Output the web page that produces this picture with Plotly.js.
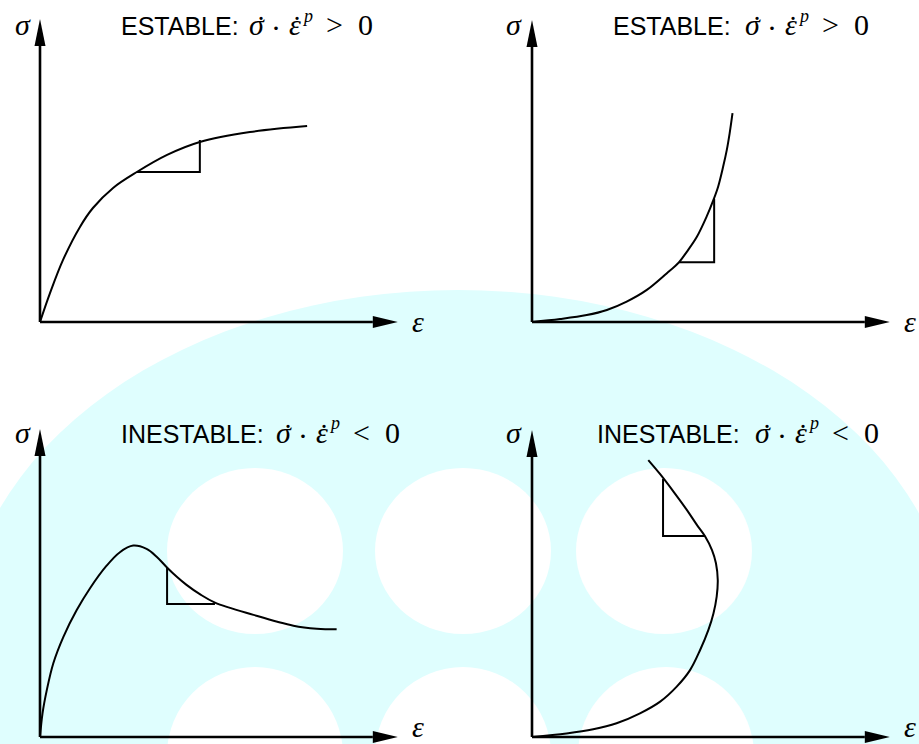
<!DOCTYPE html>
<html>
<head>
<meta charset="utf-8">
<script src="https://cdn.plot.ly/plotly-3.0.1.min.js"></script>
<style>html,body{margin:0;padding:0;background:#fff;}#chart{width:919px;height:744px;}</style>
</head>
<body>
<div id="chart"></div>
<script>
// ---- data (strain ε, stress σ in arbitrary units) ----
const eps1 = [0, 0.28, 0.64, 1.11, 1.47, 2.03, 2.69, 3.53, 4.44, 5.83, 7.42];
const sig1 = [0, 0.97, 2.07, 3.17, 3.80, 4.47, 5.00, 5.57, 6.00, 6.33, 6.53];
const triEps1 = [2.69, 4.44, 4.44];
const triSig1 = [5.00, 5.00, 6.07];

const eps2 = [0, 0.78, 1.52, 2.08, 2.63, 3.19, 3.74, 4.08, 4.30, 4.58, 4.85, 5.04, 5.17, 5.31, 5.41, 5.49, 5.57];
const sig2 = [0, 0.10, 0.23, 0.40, 0.68, 1.07, 1.62, 1.99, 2.34, 2.84, 3.51, 4.07, 4.51, 5.18, 5.73, 6.29, 6.96];
const triEps2 = [4.08, 5.06, 5.06];
const triSig2 = [1.99, 1.99, 4.10];

const eps3 = [0, 0.07, 0.19, 0.37, 0.65, 1.02, 1.39, 1.85, 2.22, 2.59, 2.96, 3.24, 3.52, 3.80, 4.07, 4.44, 4.86, 5.93, 7.04, 7.69, 8.24];
const sig3 = [0, 0.79, 1.57, 2.46, 3.34, 4.23, 4.96, 5.71, 6.16, 6.38, 6.27, 6.01, 5.66, 5.34, 5.07, 4.76, 4.48, 4.07, 3.71, 3.61, 3.59];
const triEps3 = [3.53, 3.53, 4.86];
const triSig3 = [5.63, 4.43, 4.43];

const eps4 = [0, 0.96, 1.70, 2.35, 3.00, 3.56, 4.02, 4.39, 4.67, 4.90, 5.04, 5.13, 5.16, 5.11, 5.00, 4.81, 4.58, 4.30, 3.93, 3.56, 3.23];
const sig4 = [0, 0.12, 0.26, 0.46, 0.79, 1.18, 1.68, 2.23, 2.90, 3.57, 4.12, 4.68, 5.23, 5.79, 6.23, 6.68, 7.07, 7.57, 8.18, 8.76, 9.23];
const triEps4 = [3.64, 3.64, 4.81];
const triSig4 = [8.60, 6.70, 6.70];

const labels = ['ESTABLE:', 'ESTABLE:', 'INESTABLE:', 'INESTABLE:'];
const signs = ['&gt;', '&gt;', '&lt;', '&lt;'];

// ---- layout constants (pixels) ----
const W = 919, H = 744;
const PXX = 36, PXY = 30;                 // pixels per unit
const origins = [[40, 322], [532, 322], [40, 737], [532, 737]];
const epsTip = [9.94, 9.94, 9.94, 9.94];
const sigTip = [10.10, 10.07, 10.27, 10.23];
const titleStart = [119, 611, 119, 595];   // left of the word
const mathStart = [246, 742, 273, 752];    // left of the math part
const baseline = [35, 35, 443, 443];

const curves = [[eps1, sig1], [eps2, sig2], [eps3, sig3], [eps4, sig4]];
const tris = [[triEps1, triSig1], [triEps2, triSig2], [triEps3, triSig3], [triEps4, triSig4]];

const traces = [];
const layout = {
  width: W, height: H,
  margin: {l: 0, r: 0, t: 0, b: 0},
  paper_bgcolor: '#ffffff',
  plot_bgcolor: 'rgba(0,0,0,0)',
  showlegend: false,
  shapes: [],
  annotations: []
};

// watermark (background logo)
const CYAN = '#dffefe';
function ell(cx, cy, rx, ry, col) {
  return {type: 'circle', xref: 'paper', yref: 'paper', layer: 'below',
    x0: (cx - rx) / W, x1: (cx + rx) / W, y0: 1 - (cy + ry) / H, y1: 1 - (cy - ry) / H,
    fillcolor: col, line: {width: 0}};
}
layout.shapes.push(ell(458, 644, 496, 354, CYAN));
[[255, 551], [463, 551], [664, 551]].forEach(c => layout.shapes.push(ell(c[0], c[1], 88, 83, '#ffffff')));
[[255, 755], [463, 755], [666, 755]].forEach(c => layout.shapes.push(ell(c[0], c[1], 88, 88, '#ffffff')));

const serif = "'Liberation Serif', 'Times New Roman', serif";
const sans = "'Liberation Sans', Arial, sans-serif";
const MS = 30;                 // math font size
const cOff = 0.3375 * MS;      // baseline -> box centre

for (let i = 0; i < 4; i++) {
  const n = i === 0 ? '' : String(i + 1);
  const xa = 'x' + n, ya = 'y' + n;
  const [ox, oy] = origins[i];
  const ux = px => (px - ox) / PXX;
  const uy = py => (oy - py) / PXY;
  layout['xaxis' + n] = {
    domain: [(ox - 40) / W, (ox + 380) / W],
    range: [-40 / PXX, 380 / PXX],
    visible: false, fixedrange: true, anchor: ya
  };
  layout['yaxis' + n] = {
    domain: [1 - (oy + 6) / H, 1 - (oy - 322) / H],
    range: [-6 / PXY, 322 / PXY],
    visible: false, fixedrange: true, anchor: xa
  };

  traces.push({x: curves[i][0], y: curves[i][1], xaxis: xa, yaxis: ya, type: 'scatter', mode: 'lines',
    line: {color: '#000', width: 2, shape: 'spline', smoothing: 1}, hoverinfo: 'skip'});
  traces.push({x: tris[i][0], y: tris[i][1], xaxis: xa, yaxis: ya, type: 'scatter', mode: 'lines',
    line: {color: '#000', width: 2}, hoverinfo: 'skip'});

  // axes with arrowheads
  const hl = 25 / PXX, hh = 6 / PXY;        // x arrow head
  const vl = 27 / PXY, vw = 5.5 / PXX;      // y arrow head
  const ex = epsTip[i], sy = sigTip[i];
  layout.shapes.push({type: 'line', xref: xa, yref: ya, x0: 0, y0: 0, x1: ex - hl, y1: 0,
    line: {color: '#000', width: 2.6}});
  layout.shapes.push({type: 'line', xref: xa, yref: ya, x0: 0, y0: 0, x1: 0, y1: sy - vl,
    line: {color: '#000', width: 2.6}});
  layout.shapes.push({type: 'path', xref: xa, yref: ya,
    path: `M ${ex} 0 L ${ex - hl} ${hh} L ${ex - hl} ${-hh} Z`, fillcolor: '#000', line: {width: 0}});
  layout.shapes.push({type: 'path', xref: xa, yref: ya,
    path: `M 0 ${sy} L ${vw} ${sy - vl} L ${-vw} ${sy - vl} Z`, fillcolor: '#000', line: {width: 0}});

  // axis labels
  const sigB = i < 2 ? 35 : 443, epsB = i < 2 ? 332 : 737;
  layout.annotations.push({xref: xa, yref: ya, x: ux(ox - 17 - (i % 2)), y: uy(sigB - cOff), text: '<i>σ</i>',
    showarrow: false, font: {family: serif, size: MS, color: '#000'}});
  layout.annotations.push({xref: xa, yref: ya, x: ux(ox + 378), y: uy(epsB - cOff), text: '<i>ε</i>',
    showarrow: false, font: {family: serif, size: MS, color: '#000'}});

  // title: word + math glyphs
  const B = baseline[i], L = mathStart[i];
  layout.annotations.push({xref: xa, yref: ya, x: ux(titleStart[i]), y: uy(B - 0.3465 * 25),
    xanchor: 'left', text: labels[i], showarrow: false, font: {family: sans, size: 25, color: '#000'}});
  const glyphs = [
    ['<i>σ</i>', 11, -cOff, MS],
    ['˙', 14.5, -cOff + 2, MS],
    ['·', 30, -cOff + 3, MS],
    ['<i>ε</i>', 49, -cOff, MS],
    ['˙', 50.5, -cOff + 2, MS],
    ['<i>p</i>', 61, -19.5, 18],
    [signs[i], 88, -cOff, MS],
    ['0', 119, -cOff, MS]
  ];
  glyphs.forEach(g => layout.annotations.push({xref: xa, yref: ya, x: ux(L + g[1]), y: uy(B + g[2]),
    text: g[0], showarrow: false, font: {family: serif, size: g[3], color: '#000'}}));
}

Plotly.newPlot('chart', traces, layout, {staticPlot: true, displayModeBar: false});
</script>
</body>
</html>
